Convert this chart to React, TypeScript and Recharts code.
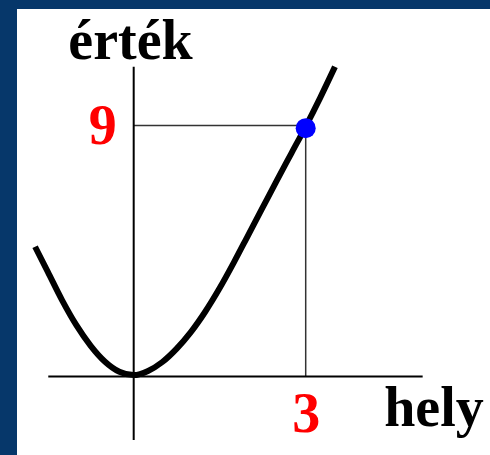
import React from 'react';
import { ComposedChart, Line, XAxis, YAxis, ReferenceLine, ReferenceDot } from 'recharts';

// curve samples (hely → érték)
const curveX = [-1.72, -1.5, -1.25, -1.0, -0.75, -0.5, -0.25, 0, 0.25, 0.5, 0.75, 1.0, 1.25, 1.5, 1.75, 2.0, 2.25, 2.5, 2.75, 3.0, 3.25, 3.51];
const curveY = [4.65, 3.76, 2.74, 1.84, 1.1, 0.53, 0.17, 0.05, 0.2, 0.52, 1.0, 1.6, 2.33, 3.17, 4.1, 5.08, 6.06, 7.04, 8.0, 8.96, 9.98, 11.1];
const curveData = curveX.map((x, i) => ({ x, y: curveY[i] }));

// axis extents (in data units)
const xAxisRange = [-1.49, 5.04];
const yAxisRange = [-2.28, 11.1];

// highlighted point and its guide values
const pointX = 3;
const pointY = 8.9;
const guideX = 3;
const guideY = 9;

// texts
const xTickLabel = '3';
const yTickLabel = '9';
const xTitle = 'hely';
const yTitle = 'érték';

const FONT = "'Liberation Serif', 'Times New Roman', serif";

const textLabel = (text: string, dx: number, dy: number, anchor: string, fill: string) => (props: any) => {
  const vb = props.viewBox || {};
  return (
    <text
      x={(vb.x ?? 0) + dx}
      y={(vb.y ?? 0) + dy}
      textAnchor={anchor as any}
      fill={fill}
      fontFamily={FONT}
      fontWeight="bold"
      fontSize={56}
    >
      {text}
    </text>
  );
};

export default function App() {
  return (
    <div
      style={{
        position: 'absolute',
        left: 0,
        top: 0,
        width: 490,
        height: 455,
        boxSizing: 'border-box',
        background: '#ffffff',
        borderLeft: '17px solid #06376a',
        borderTop: '9px solid #06376a',
      }}
    >
      <ComposedChart
        width={473}
        height={446}
        data={curveData}
        margin={{ top: 18.75, right: 12.3, bottom: 8.75, left: 2.03 }}
      >
        <XAxis hide type="number" dataKey="x" domain={[-2, 6]} allowDataOverflow />
        <YAxis hide type="number" domain={[-2.5, 12.5]} allowDataOverflow />
        {/* guides */}
        <ReferenceLine
          segment={[{ x: 0, y: guideY }, { x: guideX, y: guideY }]}
          stroke="#333333"
          strokeWidth={1.5}
          ifOverflow="visible"
        />
        <ReferenceLine
          segment={[{ x: guideX, y: guideY }, { x: guideX, y: 0 }]}
          stroke="#333333"
          strokeWidth={1.5}
          ifOverflow="visible"
        />
        {/* axes */}
        <ReferenceLine
          segment={[{ x: xAxisRange[0], y: 0 }, { x: xAxisRange[1], y: 0 }]}
          stroke="#000000"
          strokeWidth={2}
          ifOverflow="visible"
        />
        <ReferenceLine
          segment={[{ x: 0, y: yAxisRange[0] }, { x: 0, y: yAxisRange[1] }]}
          stroke="#000000"
          strokeWidth={2}
          ifOverflow="visible"
        />
        <Line
          type="monotone"
          dataKey="y"
          stroke="#000000"
          strokeWidth={6}
          dot={false}
          activeDot={false}
          isAnimationActive={false}
        />
        <ReferenceDot x={pointX} y={pointY} r={10} fill="#0000ff" stroke="none" ifOverflow="visible" />
        {/* texts */}
        <ReferenceDot x={0} y={yAxisRange[1]} r={0} stroke="none" fill="none" ifOverflow="visible"
          label={textLabel(yTitle, -3.2, -7.4, 'middle', '#000000')} />
        <ReferenceDot x={0} y={guideY} r={0} stroke="none" fill="none" ifOverflow="visible"
          label={textLabel(yTickLabel, -17, 18.6, 'end', '#ff0000')} />
        <ReferenceDot x={guideX} y={0} r={0} stroke="none" fill="none" ifOverflow="visible"
          label={textLabel(xTickLabel, 0.6, 55.2, 'middle', '#ff0000')} />
        <ReferenceDot x={guideX} y={0} r={0} stroke="none" fill="none" ifOverflow="visible"
          label={textLabel(xTitle, 78.5, 49.5, 'start', '#000000')} />
      </ComposedChart>
    </div>
  );
}
